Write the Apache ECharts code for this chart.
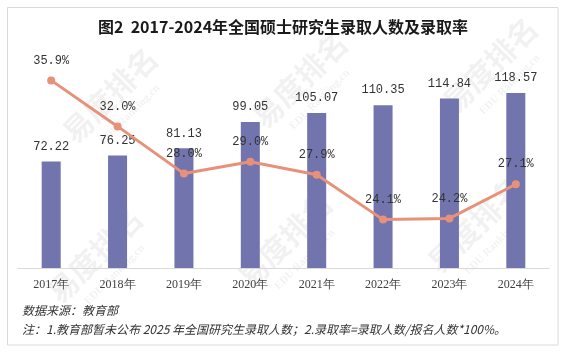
<!DOCTYPE html>
<html>
<head>
<meta charset="utf-8">
<script src="https://cdn.jsdelivr.net/npm/echarts@6/dist/echarts.min.js"></script>
<style>
  html, body { margin: 0; padding: 0; background: #fff; }
  #chart { width: 566px; height: 353px; }
</style>
</head>
<body>
<div id="chart"></div>
<script>
// data
const years = ["2017年", "2018年", "2019年", "2020年", "2021年", "2022年", "2023年", "2024年"];
const admitted = [72.22, 76.25, 81.13, 99.05, 105.07, 110.35, 114.84, 118.57];   // 万人
const admitRate = [35.9, 32.0, 28.0, 29.0, 27.9, 24.1, 24.2, 27.1];              // %

const titleText = "图2  2017-2024年全国硕士研究生录取人数及录取率";
const sourceText = "数据来源：教育部";
const noteText = "注：1.教育部暂未公布 2025 年全国研究生录取人数；2.录取率=录取人数/报名人数*100%。";

// faint diagonal watermark, repeated
const markSpots = [[110, 95], [300, 80], [490, 65], [95, 255], [285, 240], [475, 225]];
const watermarks = markSpots.map(([x, y]) => ({
    type: "group",
    x: x,
    y: y,
    rotation: Math.PI / 4,
    silent: true,
    z: -10,
    children: [
        {
            type: "text",
            style: {
                text: "易度排名",
                font: "bold 30px 'Noto Sans CJK SC'",
                fill: "rgba(0,0,0,0.055)",
                align: "center",
                verticalAlign: "middle",
            },
        },
        {
            type: "text",
            y: 28,
            style: {
                text: "EDU Ranking.cn",
                font: "bold 11px 'Liberation Serif'",
                fill: "rgba(0,0,0,0.055)",
                align: "center",
                verticalAlign: "middle",
            },
        },
    ],
}));

const chart = echarts.init(document.getElementById("chart"));

chart.setOption({
    backgroundColor: "#fff",
    animation: false,
    title: {
        text: titleText,
        left: "center",
        top: 14,
        textStyle: {
            fontFamily: "Noto Sans CJK SC",
            fontSize: 16,
            fontWeight: "bold",
            color: "#1a1a1a",
        },
    },
    graphic: [
        ...watermarks,
        {
            type: "rect",
            shape: { x: 7.5, y: 7.5, width: 550.5, height: 337.5 },
            style: { fill: "none", stroke: "#d9d9d9", lineWidth: 1 },
            silent: true,
        },
        {
            type: "text",
            left: 22,
            top: 304,
            style: {
                text: sourceText,
                font: "italic 12px 'Noto Sans CJK SC'",
                fill: "#333",
            },
        },
        {
            type: "text",
            left: 22,
            top: 323,
            style: {
                text: noteText,
                font: "italic 12px 'Noto Sans CJK SC'",
                fill: "#333",
            },
        },
    ],
    grid: { left: 18, right: 17, top: 32, bottom: 85, containLabel: false },
    xAxis: {
        type: "category",
        data: years,
        axisTick: { show: false },
        axisLine: { lineStyle: { color: "#d9d9d9" } },
        axisLabel: {
            margin: 11,
            fontSize: 12,
            color: "#404040",
            fontFamily: "Liberation Serif",
        },
    },
    yAxis: [
        { type: "value", min: 0, max: 160, show: false },
        { type: "value", min: 20, max: 40, show: false },
    ],
    series: [
        {
            type: "bar",
            data: admitted,
            barWidth: 19,
            itemStyle: { color: "#7174ad" },
            label: {
                show: true,
                position: "top",
                distance: 9,
                fontFamily: "Liberation Mono",
                fontSize: 12,
                color: "#333",
                formatter: p => p.value.toFixed(2),
            },
        },
        {
            type: "line",
            yAxisIndex: 1,
            data: admitRate,
            symbol: "circle",
            symbolSize: 8,
            lineStyle: { color: "#e8917a", width: 3 },
            itemStyle: { color: "#e8917a" },
            label: {
                show: true,
                position: "top",
                distance: 10,
                fontFamily: "Liberation Mono",
                fontSize: 12,
                color: "#333",
                formatter: p => p.value.toFixed(1) + "%",
            },
        },
    ],
});
</script>
</body>
</html>
